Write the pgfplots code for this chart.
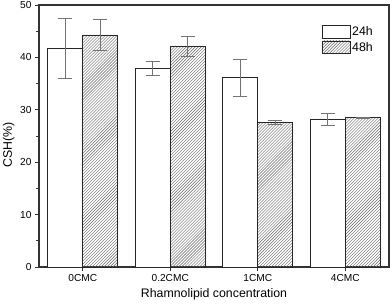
\documentclass[border=0pt]{standalone}
\usepackage{fontspec}
\setmainfont{Liberation Sans}
\usepackage{pgfplots}
\pgfplotsset{compat=1.18}
\usetikzlibrary{patterns}
\begin{document}
\begin{tikzpicture}
\begin{axis}[
  scale only axis,
  width=350bp, height=262bp,
  xmin=-0.5, xmax=3.5,
  ymin=0, ymax=50,
  xtick={0,1,2,3},
  xticklabels={0CMC,0.2CMC,1CMC,4CMC},
  ytick={0,10,20,30,40,50},
  minor ytick={5,15,25,35,45},
  tick align=outside,
  xtick pos=left, ytick pos=left,
  major tick length=4bp, minor tick length=3bp,
  axis line style={black!80, line width=1.1pt},
  every tick/.style={black!80, line width=0.8pt},
  tick label style={font=\fontsize{10.2}{12}\selectfont},
  /pgf/number format/assume math mode=true,
  xlabel={Rhamnolipid concentration},
  ylabel={CSH(\%)},
  label style={font=\fontsize{12.4}{14}\selectfont},
  xlabel style={yshift=0bp},
  ylabel style={at={(ticklabel cs:0.466)}, yshift=-1bp},
  ybar=0pt, bar width=35bp,
  legend style={at={(0.96,0.925)}, anchor=north east, draw=none, fill=none,
    font=\fontsize{12.4}{14}\selectfont, row sep=1pt, inner sep=0pt},
  legend image code/.code={\draw[#1] (0bp,-6bp) rectangle (28bp,6.5bp);},
  error bars/error bar style={black!55, line width=0.6pt},
  error bars/error mark options={black!55, line width=0.6pt, mark size=7bp, rotate=90},
]
\addplot[draw=black!85, fill=white, line width=0.7pt,
  error bars/.cd, y dir=both, y explicit]
  coordinates {(0,41.7) +- (0,5.7) (1,37.9) +- (0,1.4) (2,36.1) +- (0,3.5) (3,28.2) +- (0,1.15)};
\addplot[draw=black!85, pattern=north east lines, pattern color=black!60, line width=0.7pt,
  error bars/.cd, y dir=both, y explicit]
  coordinates {(0,44.3) +- (0,3.0) (1,42.2) +- (0,1.9) (2,27.6) +- (0,0.45) (3,28.5) +- (0,0.12)};
\legend{24h,48h}
\coordinate (sw) at (rel axis cs:0,0);
\end{axis}
\pgfresetboundingbox
\path (sw) ++(-39bp,-41bp) rectangle ++(392bp,308bp);
\end{tikzpicture}
\end{document}
